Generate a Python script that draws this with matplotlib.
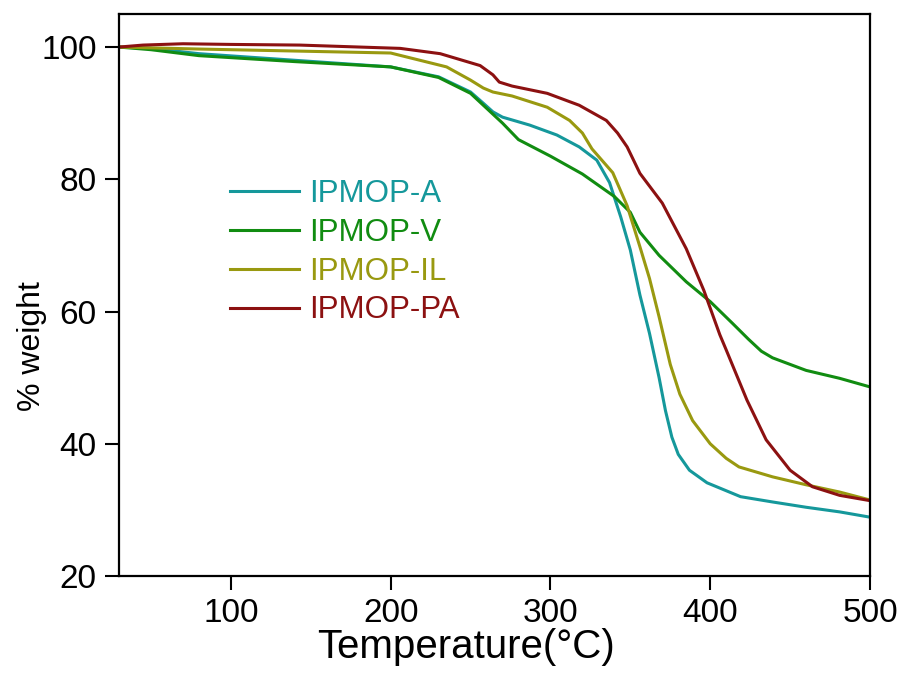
import matplotlib
matplotlib.use('Agg')
import matplotlib.pyplot as plt

plt.rcParams['font.family'] = ['Liberation Sans', 'DejaVu Sans']

# TGA curves (temperature in C, weight in %)
temp_a = [30, 50, 80, 140, 200, 230, 250, 258, 264, 270, 287, 304, 318, 329, 337, 344, 350,
          356, 362, 368, 372, 376, 380, 387, 398, 419, 439, 460, 481, 500]
weight_a = [100, 99.8, 99.0, 98.0, 97.0, 95.5, 93.2, 91.5, 90.2, 89.4, 88.2, 86.7, 84.9, 82.9,
            79.5, 74.3, 69.3, 62.5, 56.7, 50.0, 45.0, 41.0, 38.4, 36.0, 34.1, 32.0, 31.2,
            30.4, 29.7, 28.9]

temp_v = [30, 50, 80, 140, 200, 230, 250, 262, 270, 280, 300, 320, 340, 350, 356, 368,
          385, 400, 414, 424, 432, 439, 460, 481, 500]
weight_v = [100, 99.6, 98.7, 97.8, 97.0, 95.4, 93.0, 90.3, 88.5, 86.0, 83.5, 80.8, 77.4,
            75.0, 72.0, 68.5, 64.5, 61.5, 58.2, 55.8, 54.0, 53.0, 51.1, 49.9, 48.6]

temp_il = [30, 80, 140, 200, 235, 250, 258, 264, 276, 298, 312, 320, 326, 339, 348, 356,
           362, 368, 375, 381, 389, 400, 410, 418, 439, 460, 481, 500]
weight_il = [100, 99.7, 99.4, 99.1, 97.0, 95.0, 93.8, 93.2, 92.6, 90.9, 88.9, 87.0, 84.6,
             81.0, 76.0, 69.8, 65.0, 59.2, 52.0, 47.5, 43.5, 40.0, 37.8, 36.5, 35.0, 33.8,
             32.7, 31.5]

temp_pa = [30, 45, 70, 100, 143, 206, 231, 256, 264, 268, 276, 298, 318, 335, 342, 348, 356,
           370, 385, 396, 406, 410, 423, 435, 450, 464, 481, 500]
weight_pa = [100, 100.3, 100.5, 100.4, 100.3, 99.8, 99.0, 97.2, 95.8, 94.7, 94.1, 93.0, 91.2,
             88.9, 87.0, 84.9, 80.9, 76.4, 69.5, 63.2, 56.5, 54.2, 46.6, 40.6, 36.0, 33.5,
             32.2, 31.4]

series = [
    ('IPMOP-A', temp_a, weight_a, '#15989b'),
    ('IPMOP-V', temp_v, weight_v, '#118c11'),
    ('IPMOP-IL', temp_il, weight_il, '#999910'),
    ('IPMOP-PA', temp_pa, weight_pa, '#8c1111'),
]

fig = plt.figure(figsize=(9.01, 6.73), dpi=100)
ax = fig.add_axes([0.1321, 0.1441, 0.8335, 0.8351])

for label, t, w, color in series:
    ax.plot(t, w, color=color, lw=2.2, label=label)

ax.set_xlim(30, 500)
ax.set_ylim(20, 105)
ax.set_xticks([100, 200, 300, 400, 500])
ax.set_yticks([20, 40, 60, 80, 100])
ax.tick_params(direction='out', length=10, width=1.5, labelsize=24, pad=6)
for sp in ax.spines.values():
    sp.set_linewidth(1.6)

ax.set_xlabel('Temperature(\u00b0C)', fontsize=29)
ax.xaxis.set_label_coords(0.462, -0.092)
ax.set_ylabel('% weight', fontsize=23)
ax.yaxis.set_label_coords(-0.096, 0.41)

leg = ax.legend(loc='upper left', bbox_to_anchor=(0.148, 0.706), frameon=False,
                fontsize=22.5, handlelength=2.2, handletextpad=0.33,
                labelspacing=0.28, borderpad=0, borderaxespad=0,
                labelcolor='linecolor')

fig.savefig('out.png', dpi=100)
